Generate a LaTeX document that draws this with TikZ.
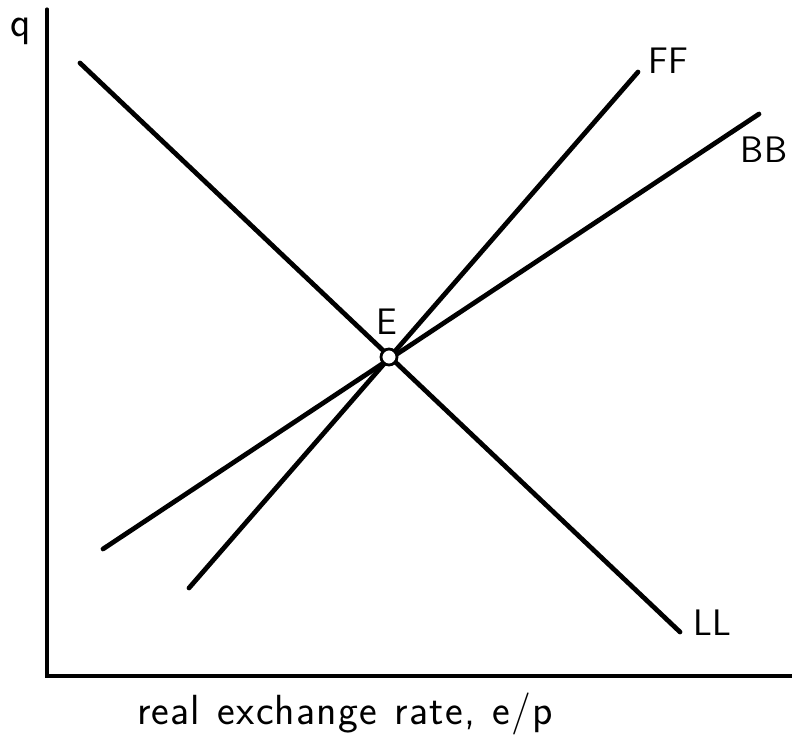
\documentclass[tikz,border=0pt]{standalone}
\usepackage{fontspec}
\newfontfamily\lblfont{Latin Modern Sans}
\newfontfamily\xlblfont[LetterSpace=3,WordSpace=1.2]{Latin Modern Sans}
\usetikzlibrary{calc}

\begin{document}
\begin{tikzpicture}[x=0.02cm,y=-0.02cm,line cap=round]
\tikzset{
  axis/.style={line width=1.8pt},
  sched/.style={line width=2.7pt},
  lbl/.style={font=\lblfont\fontsize{21}{25}\selectfont, inner sep=0pt},
  eqpt/.style={circle, draw, line width=1.6pt, fill=white, inner sep=0pt, minimum size=0.32cm}
}
\useasboundingbox (0,0) rectangle (792,740);

% axes
\draw[axis] (47,9) -- (47,676) -- (792,676);
\node[lbl, font=\lblfont\fontsize{24}{28}\selectfont] (q) at (21,31) {q};
\node[lbl, font=\xlblfont\fontsize{24}{28}\selectfont] (xlab) at (345,714) {real exchange rate, e/p};

% schedules
\coordinate (LLa) at (80,63);
\coordinate (LLb) at (680,632);
\coordinate (FFa) at (189,588);
\coordinate (FFb) at (638,72);
\coordinate (BBa) at (103,549);
\coordinate (BBb) at (759,114);
\draw[sched] (LLa) -- (LLb);
\draw[sched] (FFa) -- (FFb);
\draw[sched] (BBa) -- (BBb);

\node[lbl] (LL) at (712,623) {LL};
\node[lbl] (FF) at (668,61) {FF};
\node[lbl] (BB) at (764,150) {BB};

% equilibrium
\node[eqpt] (E) at (389,357) {};
\node[lbl] (Elab) at (387,322) {E};

\end{tikzpicture}
\end{document}
